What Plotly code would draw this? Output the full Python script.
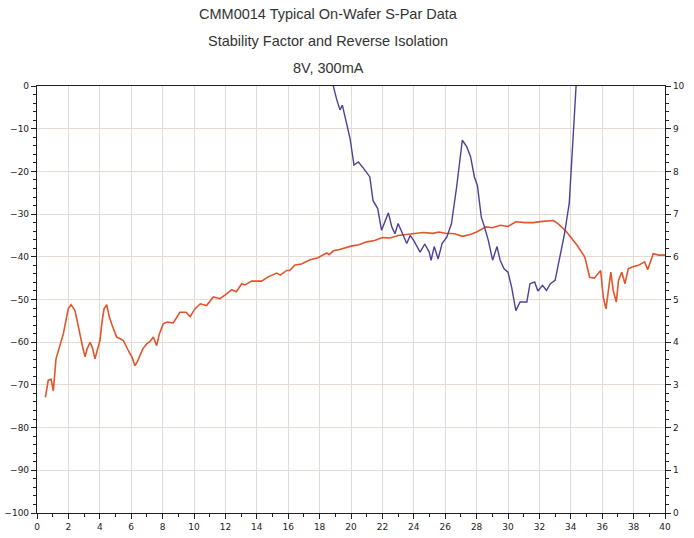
import plotly.graph_objects as go

# Reverse isolation (dB, left axis)
iso_freq = [0.53, 0.72, 0.9, 1.04, 1.21, 1.45, 1.68, 1.99, 2.17, 2.42, 2.6, 2.74, 2.9, 3.06, 3.2,
            3.38, 3.55, 3.69, 3.85, 4.01, 4.15, 4.27, 4.44, 4.6, 4.75, 5.07, 5.3, 5.5, 5.82, 6.05,
            6.24, 6.4, 6.56, 6.75, 6.99, 7.2, 7.41, 7.62, 7.8, 8.04, 8.3, 8.68, 9.1, 9.5, 9.75,
            10.06, 10.4, 10.8, 11.23, 11.65, 12.08, 12.4, 12.7, 13.04, 13.25, 13.67, 14.3, 14.73,
            15.27, 15.5, 15.9, 16.1, 16.43, 16.85, 17.39, 17.9, 18.45, 18.6, 18.88, 19.27, 20.0,
            20.5, 21.0, 21.5, 22.0, 22.5, 23.0, 23.5, 24.0, 24.6, 25.2, 25.6, 26.0, 26.6, 27.1,
            27.6, 28.0, 28.6, 29.0, 29.5, 30.0, 30.5, 31.1, 31.6, 32.2, 32.9, 33.2, 33.7, 34.4,
            34.9, 35.2, 35.5, 35.9, 36.07, 36.24, 36.4, 36.55, 36.7, 36.9, 37.04, 37.25, 37.45,
            37.66, 37.9, 38.3, 38.7, 38.9, 39.25, 39.6, 40.0]
iso_db = [-72.9, -68.9, -68.7, -71.4, -63.9, -61.0, -58.0, -52.2, -51.2, -52.6, -56.0, -58.8, -61.0, -63.4, -61.5,
          -60.0, -61.5, -63.9, -61.5, -59.6, -55.0, -52.2, -51.2, -54.0, -55.7, -58.8, -59.2, -59.6, -62.0, -63.5,
          -65.5, -64.5, -63.1, -61.5, -60.4, -59.8, -58.8, -60.8, -58.0, -55.7, -55.3, -55.5, -53.0, -53.0, -54.0,
          -52.2, -51.0, -51.4, -49.4, -49.8, -48.7, -47.7, -48.2, -46.3, -46.6, -45.7, -45.7, -44.7,
          -43.8, -44.3, -43.2, -43.2, -41.9, -41.7, -40.7, -40.2, -39.1, -39.5, -38.6, -38.3, -37.5,
          -37.2, -36.5, -36.2, -35.5, -35.6, -35.0, -34.8, -34.6, -34.3, -34.5, -34.2, -34.5, -34.6, -35.2,
          -34.8, -34.2, -33.0, -33.2, -32.6, -32.9, -31.8, -32.0, -32.0, -31.7, -31.5, -32.3, -34.0, -37.3,
          -40.1, -44.8, -45.0, -43.2, -49.5, -52.2, -47.1, -43.6, -47.9, -50.6, -45.5, -43.6, -46.3,
          -42.8, -42.4, -42.0, -41.2, -43.0, -39.3, -39.6, -39.6]

# Stability factor K (right axis)
k_freq = [18.8, 18.87, 19.1, 19.3, 19.45, 19.72, 19.94, 20.19, 20.47, 20.8, 21.2, 21.4, 21.7, 21.95,
          22.17, 22.38, 22.6, 22.8, 23.0, 23.35, 23.55, 23.77, 24.0, 24.4, 24.7, 24.98, 25.1, 25.3,
          25.55, 25.8, 26.1, 26.4, 26.73, 27.09, 27.37, 27.62, 27.86, 28.05, 28.3, 28.5, 28.75, 29.02,
          29.3, 29.5, 29.75, 30.0, 30.23, 30.5, 30.77, 31.2, 31.4, 31.7, 31.9, 32.2, 32.45, 32.7, 33.0,
          33.3, 33.6, 33.9, 34.1, 34.33, 34.4]
k_val = [10.4, 10.0, 9.67, 9.44, 9.55, 9.12, 8.77, 8.15, 8.22, 8.07, 7.87, 7.32, 7.13, 6.62,
         6.85, 7.03, 6.70, 6.54, 6.78, 6.46, 6.31, 6.50, 6.38, 6.11, 6.30, 6.11, 5.92, 6.24,
         5.95, 6.31, 6.46, 6.78, 7.64, 8.73, 8.58, 8.34, 7.87, 7.67, 6.93, 6.70, 6.38, 5.92,
         6.24, 5.92, 5.72, 5.64, 5.29, 4.74, 4.94, 4.94, 5.37, 5.41, 5.20, 5.33, 5.21, 5.37, 5.45,
         5.99, 6.54, 7.25, 8.58, 10.0, 10.4]

title_lines = ["CMM0014 Typical On-Wafer S-Par Data",
               "Stability Factor and Reverse Isolation",
               "8V, 300mA"]

fig = go.Figure()
fig.add_trace(go.Scatter(x=iso_freq, y=iso_db, mode="lines",
                         line=dict(color="#e0552a", width=1.6), yaxis="y", showlegend=False))
fig.add_trace(go.Scatter(x=k_freq, y=k_val, mode="lines",
                         line=dict(color="#4e3f98", width=1.4), yaxis="y2", showlegend=False))

tick_font = dict(family="DejaVu Sans", size=9, color="#222")
grid_c = "#e4dad6"

fig.update_layout(
    width=694, height=538,
    margin=dict(l=37, r=29, t=86, b=25, autoexpand=False),
    paper_bgcolor="white", plot_bgcolor="white",
    xaxis=dict(range=[0, 40], dtick=2, tick0=0, showgrid=True, gridcolor=grid_c, gridwidth=1,
               zeroline=False, showline=True, linecolor="#222", linewidth=1.2, mirror=True,
               automargin=False,
               ticks="outside", ticklen=5, tickcolor="#222", tickfont=tick_font,
               minor=dict(dtick=1, ticks="outside", ticklen=3, tickcolor="#222", showgrid=False)),
    yaxis=dict(range=[-100, 0], dtick=10, tick0=0, showgrid=True, gridcolor=grid_c, gridwidth=1,
               zeroline=False, showline=True, linecolor="#222", linewidth=1.2, automargin=False,
               ticks="outside", ticklen=5, tickcolor="#222", tickfont=tick_font,
               minor=dict(dtick=2, ticks="outside", ticklen=3, tickcolor="#222", showgrid=False)),
    yaxis2=dict(range=[0, 10], dtick=1, tick0=0, overlaying="y", side="right", showgrid=False,
                zeroline=False, showline=True, linecolor="#222", linewidth=1.2, automargin=False,
                ticks="outside", ticklen=5, tickcolor="#222", tickfont=tick_font,
                minor=dict(dtick=0.2, ticks="outside", ticklen=3, tickcolor="#222", showgrid=False)),
)

title_y_px = [14, 41, 68]
for txt, ypx in zip(title_lines, title_y_px):
    fig.add_annotation(text=txt, xref="paper", yref="paper",
                       x=(328 - 37) / 628, y=(513 - ypx) / 427,
                       xanchor="center", yanchor="middle", showarrow=False,
                       font=dict(family="Liberation Sans", size=14.5, color="#333"))

fig.write_html("out.html",
               config={"displayModeBar": False},
               post_script="document.body.style.margin='0';document.body.style.overflow='hidden';")
